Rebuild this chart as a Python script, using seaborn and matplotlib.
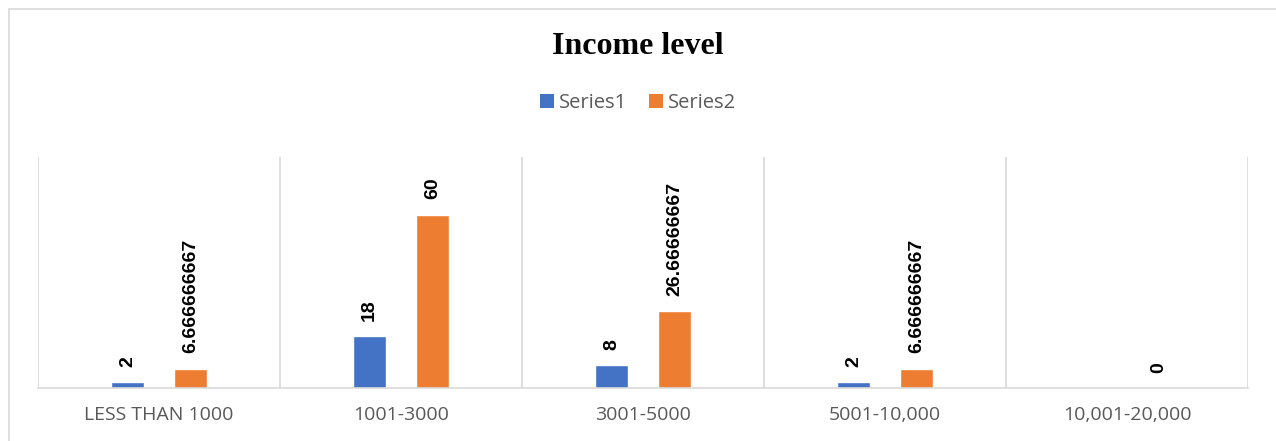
"""
Income level chart: two series of clustered columns with rotated value labels.
"""

import matplotlib.pyplot as plt
import seaborn as sns
import pandas as pd
import numpy as np
from matplotlib.patches import Rectangle, Patch

# Data
categories = ["LESS THAN 1000", "1001-3000", "3001-5000", "5001-10,000", "10,001-20,000"]
series1 = [2, 18, 8, 2, np.nan]
series2 = [6.666666667, 60, 26.66666667, 6.666666667, 0]
series_names = ["Series1", "Series2"]
colors = ["#4472C4", "#ED7D31"]

W, H = 1276, 441

sns.set_theme(style="white")
plt.rcParams["font.family"] = ["Open Sans", "DejaVu Sans"]

df = pd.DataFrame({
    "category": categories * 2,
    "series": [series_names[0]] * len(categories) + [series_names[1]] * len(categories),
    "value": series1 + series2,
})

fig = plt.figure(figsize=(W / 100, H / 100), dpi=100)
ax = fig.add_axes([38 / W, 1 - 388 / H, (1248 - 38) / W, (388 - 157) / H])

sns.barplot(
    data=df.dropna(),
    x="category",
    y="value",
    hue="series",
    order=categories,
    hue_order=series_names,
    palette=colors,
    saturation=1,
    width=0.52,
    gap=0.48,
    legend=False,
    ax=ax,
)

# Value labels above each bar
for container in ax.containers:
    labels = [f"{v:.10g}" for v in container.datavalues]
    ax.bar_label(
        container,
        labels=labels,
        rotation=90,
        padding=11,
        fontsize=14,
        fontweight="bold",
        family="Liberation Sans",
        color="black",
    )

ax.set_xlim(-0.5, len(categories) - 0.5)
ax.set_ylim(0, 80)
ax.set_yticks([])
ax.set_xlabel("")
ax.set_ylabel("")

# Vertical separators between categories
ax.set_xticks(np.arange(-0.5, len(categories)), minor=True)
ax.grid(True, which="minor", axis="x", color="#D9D9D9", linewidth=1.2)
ax.grid(False, which="major")
ax.tick_params(axis="x", which="both", length=0, pad=13, labelsize=14, labelcolor="#595959")

for side in ["left", "right", "top"]:
    ax.spines[side].set_visible(False)
ax.spines["bottom"].set_color("#D9D9D9")
ax.spines["bottom"].set_linewidth(1.2)

# Title and legend
fig.text(0.5, 1 - 47 / H, "Income level", ha="center", va="center",
         fontsize=23, fontweight="bold", family="Liberation Serif", color="black")

handles = [Patch(facecolor=c, edgecolor="none") for c in colors]
fig.legend(
    handles,
    series_names,
    loc="center",
    bbox_to_anchor=(0.5, 1 - 103 / H),
    ncol=2,
    frameon=False,
    fontsize=14.5,
    labelcolor="#595959",
    handlelength=0.7,
    handleheight=0.7,
    handletextpad=0.25,
    columnspacing=1.1,
)

# Chart area border
fig.patches.append(Rectangle((9 / W, -0.05), 1.0, 1 - 9 / H + 0.05,
                             transform=fig.transFigure, fill=False,
                             edgecolor="#D9D9D9", linewidth=1.2))

fig.savefig("out.png", dpi=100)
